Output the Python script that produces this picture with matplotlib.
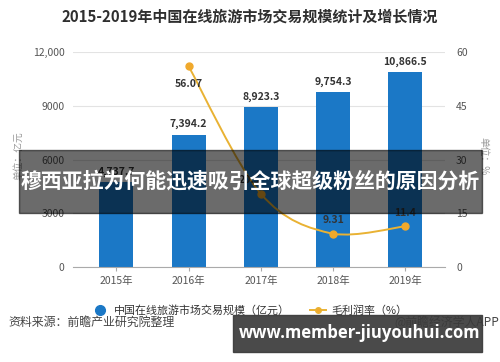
import matplotlib.pyplot as plt
from matplotlib.path import Path
from matplotlib.patches import PathPatch, Rectangle
from matplotlib.lines import Line2D
import numpy as np

plt.rcParams['font.family'] = ['Noto Sans CJK SC', 'DejaVu Sans']

# ---- dane ----
years = ['2015年', '2016年', '2017年', '2018年', '2019年']
scale = [4737.7, 7394.2, 8923.3, 9754.3, 10866.5]
scale_labels = ['4,737.7', '7,394.2', '8,923.3', '9,754.3', '10,866.5']
margin_years = [1, 2, 3, 4]          # indeksy lat z wartością marży
margin = [56.07, 20.5, 9.31, 11.4]
margin_labels = ['56.07', '20.5', '9.31', '11.4']
left_ticks = [0, 3000, 6000, 9000, 12000]
left_tick_labels = ['0', '3000', '6000', '9000', '12,000']
right_ticks = [0, 15, 30, 45, 60]

BLUE = '#1b78c6'
GOLD = '#e9b233'
DOT = '#f0a92c'
TXT = '#333333'
TICK = '#555555'

fig = plt.figure(figsize=(5, 3.62), dpi=100)
ax = fig.add_axes([0.146, 0.262, 0.744, 0.594])
ax2 = ax.twinx()

x = np.arange(len(years))
ax.bar(x, scale, width=0.47, color=BLUE, zorder=2)
for xi, v, lab in zip(x, scale, scale_labels):
    ax.annotate(lab, (xi, v), xytext=(0, 4), textcoords='offset points',
                ha='center', va='bottom', fontsize=7.5, fontweight='bold', color=TXT)

ax.set_xlim(-0.6, 4.55)
ax.set_ylim(0, 12000)
ax.set_yticks(left_ticks)
ax.set_yticklabels(left_tick_labels)
ax.set_xticks(x)
ax.set_xticklabels(years)
ax.grid(axis='y', color='#e3e3e3', linewidth=0.8, zorder=0)
ax.set_axisbelow(True)
for s in ['top', 'left', 'right']:
    ax.spines[s].set_visible(False)
ax.spines['bottom'].set_color('#aaaaaa')
ax.tick_params(axis='y', length=0, labelsize=7.5, labelcolor=TICK, pad=6)
ax.tick_params(axis='x', length=3, color='#aaaaaa', labelsize=7.5, labelcolor=TICK)

ax2.set_ylim(0, 60)
ax2.set_yticks(right_ticks)
for s in ['top', 'left', 'right', 'bottom']:
    ax2.spines[s].set_visible(False)
ax2.tick_params(axis='y', length=0, labelsize=7.5, labelcolor=TICK, pad=8)

# gładka linia (krzywe Beziera, Catmull-Rom)
pts = np.column_stack([margin_years, margin]).astype(float)
verts = [tuple(pts[0])]
codes = [Path.MOVETO]
for i in range(len(pts) - 1):
    p0 = pts[i - 1] if i > 0 else pts[i]
    p1, p2 = pts[i], pts[i + 1]
    p3 = pts[i + 2] if i + 2 < len(pts) else pts[i + 1]
    c1 = p1 + (p2 - p0) / 6.0
    c2 = p2 - (p3 - p1) / 6.0
    c1[1] = max(c1[1], 8.3)
    c2[1] = max(c2[1], 8.3)
    verts += [tuple(c1), tuple(c2), tuple(p2)]
    codes += [Path.CURVE4] * 3
ax2.add_patch(PathPatch(Path(verts, codes), facecolor='none', edgecolor=GOLD,
                        linewidth=1.4, zorder=3))
ax2.plot(margin_years, margin, 'o', color=DOT, markersize=5, zorder=4)
offs = [(0, -9), (-8, 6), (0, 6), (0, 6)]
for xi, v, lab, (dx, dy) in zip(margin_years, margin, margin_labels, offs):
    ax2.annotate(lab, (xi, v), xytext=(dx, dy), textcoords='offset points',
                 ha='center', va='top' if dy < 0 else 'bottom',
                 fontsize=7.5, fontweight='bold', color=TXT, zorder=5)

fig.text(0.036, 0.57, '单位：亿元', rotation=90, ha='center', va='center',
         fontsize=7, color='#999999')
fig.text(0.966, 0.57, '单位：%', rotation=270, ha='center', va='center',
         fontsize=7, color='#999999')

fig.text(0.5, 0.955, '2015-2019年中国在线旅游市场交易规模统计及增长情况',
         ha='center', va='center', fontsize=10.8, fontweight='bold', color='#2f2f2f')

handles = [Line2D([], [], marker='o', color=BLUE, linestyle='none', markersize=7),
           Line2D([], [], marker='o', color=GOLD, markerfacecolor=DOT,
                  linewidth=1.4, markersize=4)]
fig.legend(handles, ['中国在线旅游市场交易规模（亿元）', '毛利润率（%）'],
           loc='center', bbox_to_anchor=(0.5, 0.143), ncol=2, frameon=False,
           fontsize=7.9, handlelength=1.5, columnspacing=1.8, handletextpad=0.5,
           labelcolor='#333333')

fig.text(0.016, 0.11, '资料来源：前瞻产业研究院整理', ha='left', va='center',
         fontsize=8.6, color='#444444')
fig.text(0.998, 0.11, '@前瞻经济学人APP', ha='right', va='center',
         fontsize=8.6, color='#444444')

# nakładki
fig.add_artist(Rectangle((0.038, 1 - 213 / 362), 0.926, 63 / 362,
                         transform=fig.transFigure, color='black', alpha=0.58,
                         zorder=10))
fig.text(0.5, 1 - 181 / 362, '穆西亚拉为何能迅速吸引全球超级粉丝的原因分析',
         ha='center', va='center', fontsize=15, fontweight='bold', color='white',
         zorder=11)
fig.add_artist(Rectangle((233 / 500, 1 - 352 / 362), 249 / 500, 37 / 362,
                         transform=fig.transFigure, color='#3a3a3a', alpha=0.92,
                         zorder=10))
fig.text(360 / 500, 1 - 333 / 362, 'www.member-jiuyouhui.com', ha='center',
         va='center', fontsize=12, fontweight='bold', color='white', zorder=11,
         family=['Open Sans', 'DejaVu Sans'])

fig.savefig('out.png', dpi=100)
